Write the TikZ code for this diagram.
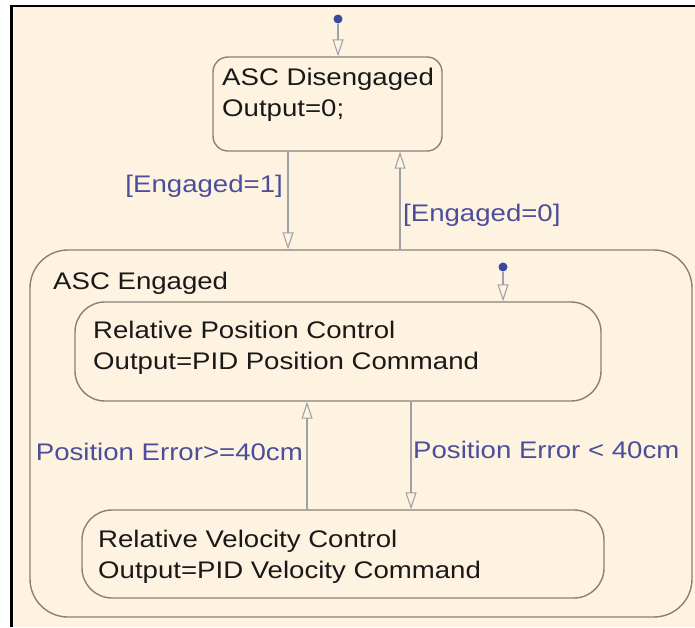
\documentclass[tikz,border=0pt]{standalone}
\usepackage{fontspec}
\setmainfont{Liberation Sans}[FakeStretch=1.15]
\usetikzlibrary{arrows.meta}
\definecolor{paper}{RGB}{254,243,224}
\definecolor{stateline}{RGB}{138,128,115}
\definecolor{transline}{RGB}{160,160,168}
\definecolor{guard}{RGB}{75,79,155}
\definecolor{dotblue}{RGB}{60,72,160}
\definecolor{ink}{RGB}{25,25,25}
\begin{document}
\begin{tikzpicture}[x=1pt,y=-1pt,
  state/.style={draw=stateline,line width=1.4pt,fill=paper,inner sep=0pt},
  statetext/.style={anchor=base west,align=left,inner sep=0pt,text=ink,
    font=\fontsize{24}{31}\selectfont},
  guardtext/.style={inner sep=0pt,text=guard,font=\fontsize{24}{31}\selectfont},
  trans/.style={draw=transline,line width=1.1pt,
    -{Triangle[open,length=17pt,width=11pt,fill=paper]}},
  initdot/.style={circle,fill=dotblue,inner sep=0pt,minimum size=9pt}]
\useasboundingbox (0,0) rectangle (695,627);
% chart canvas
\fill[paper] (11.5,6) rectangle (695,627);
\draw[black,line width=2.5pt] (11.5,627) -- (11.5,6) -- (695,6);

% states
\node[state,rounded corners=38pt,minimum width=662pt,minimum height=367pt] (eng) at (361,433.5) {};
\node[state,rounded corners=30pt,minimum width=526pt,minimum height=99pt] (pos) at (338,351.5) {};
\node[state,rounded corners=30pt,minimum width=522pt,minimum height=88pt] (vel) at (343,554) {};
\node[state,rounded corners=15pt,minimum width=229pt,minimum height=94pt] (dis) at (327.5,104) {};

% state labels (anchored on the baseline of their last line)
\node[statetext] (disT) at (222,116) {ASC Disengaged\\Output=0;};
\node[statetext] (engT) at (53,289) {ASC Engaged};
\node[statetext] (posT) at (93,369) {Relative Position Control\\Output=PID Position Command};
\node[statetext] (velT) at (98,578) {Relative Velocity Control\\Output=PID Velocity Command};

% default transitions
\node[initdot] (d1) at (338,19) {};
\node[initdot] (d2) at (503,267) {};
\draw[trans] (d1) -- (dis.north -| d1);
\draw[trans] (d2) -- (pos.north -| d2);

% transitions between states
\coordinate (xa) at (288,0);
\coordinate (xb) at (400,0);
\coordinate (xc) at (307,0);
\coordinate (xd) at (411,0);
\draw[trans] (dis.south -| xa) -- (eng.north -| xa);
\draw[trans] (eng.north -| xb) -- (dis.south -| xb);
\draw[trans] (vel.north -| xc) -- (pos.south -| xc);
\draw[trans] (pos.south -| xd) -- (vel.north -| xd);

% guards
\node[guardtext,anchor=base east] (g1) at (283,192) {[Engaged=1]};
\node[guardtext,anchor=base west] (g0) at (403,221) {[Engaged=0]};
\node[guardtext,anchor=base east] (g2) at (303,460) {Position Error>=40cm};
\node[guardtext,anchor=base west] (g3) at (413,458) {Position Error < 40cm};
\end{tikzpicture}
\end{document}
